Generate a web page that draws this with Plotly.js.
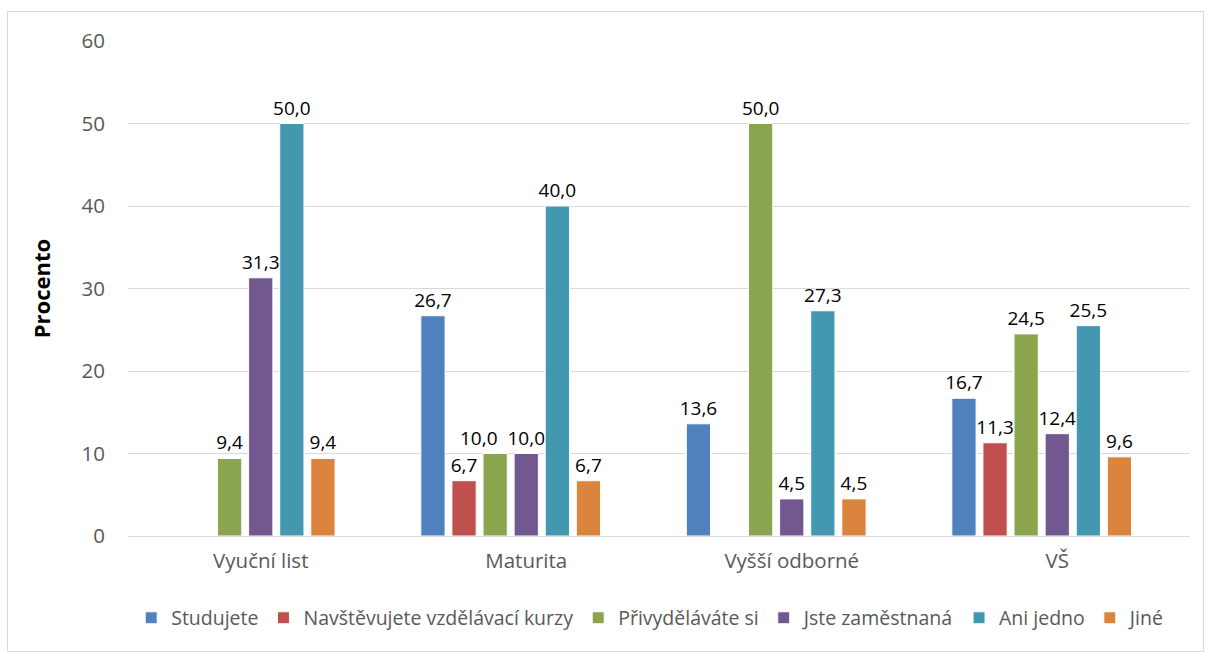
<!DOCTYPE html>
<html>
<head>
<meta charset="utf-8">
<script src="https://cdn.plot.ly/plotly-3.0.1.min.js"></script>
<style>
html,body{margin:0;padding:0;background:#fff;}
#wrap{position:relative;width:1205px;height:652px;}
#chart{width:1205px;height:652px;}
#frame{position:absolute;left:7px;top:11px;width:1195px;height:639px;border:1px solid #D9D9D9;pointer-events:none;}
</style>
</head>
<body>
<div id="wrap"><div id="chart"></div><div id="frame"></div></div>
<script>
const categories = ["Vyuční list", "Maturita", "Vyšší odborné", "VŠ"];
const seriesNames = ["Studujete", "Navštěvujete vzdělávací kurzy", "Přivyděláváte si", "Jste zaměstnaná", "Ani jedno", "Jiné"];
const studujete = [null, 26.7, 13.6, 16.7];
const navstevujete = [null, 6.7, null, 11.3];
const privydelavate = [9.4, 10.0, 50.0, 24.5];
const jsteZamestnana = [31.3, 10.0, 4.5, 12.4];
const aniJedno = [50.0, 40.0, 27.3, 25.5];
const jine = [9.4, 6.7, 4.5, 9.6];
const yTicks = [0, 10, 20, 30, 40, 50, 60];

const seriesValues = [studujete, navstevujete, privydelavate, jsteZamestnana, aniJedno, jine];
const colors = ["#4F81BD", "#C0504D", "#8BA54E", "#71588F", "#4198AF", "#DB843D"];
const fontFam = "Open Sans, Liberation Sans, sans-serif";
const fmt = v => v.toFixed(1).replace(".", ",");

const BARGAP = 0.18;
const NSLOTS = 7; // six series + one empty slot, as in the source chart
// labels moved sideways to keep neighbours apart: [series index, category index, pixel shift]
const movedLabels = [[2, 1, -16]];
const isMoved = (i, j) => movedLabels.some(m => m[0] === i && m[1] === j);

const traces = seriesValues.map((vals, i) => ({
  type: "bar",
  name: seriesNames[i],
  x: categories,
  y: vals,
  text: vals.map((v, j) => (v === null || isMoved(i, j)) ? "" : fmt(v)),
  textposition: "outside",
  constraintext: "none",
  cliponaxis: false,
  textfont: {family: fontFam, size: 19, color: "#000"},
  marker: {color: colors[i], line: {color: "#FFFFFF", width: 1}},
  hoverinfo: "x+y+name"
}));
traces.push({
  type: "bar", name: "", x: categories, y: categories.map(() => null),
  showlegend: false, hoverinfo: "skip", marker: {color: "rgba(0,0,0,0)"}
});

const slotW = (1 - BARGAP) / NSLOTS;
const annotations = movedLabels.map(([i, j, dx]) => ({
  xref: "x", yref: "y",
  x: j - (1 - BARGAP) / 2 + (i + 0.5) * slotW,
  y: seriesValues[i][j],
  text: fmt(seriesValues[i][j]),
  showarrow: false, xanchor: "center", yanchor: "bottom",
  xshift: dx, yshift: 1,
  font: {family: fontFam, size: 19, color: "#000"}
}));

const layout = {
  width: 1205, height: 652,
  margin: {l: 128, r: 15, t: 41, b: 116},
  paper_bgcolor: "#fff", plot_bgcolor: "#fff",
  barmode: "group",
  bargap: BARGAP,
  bargroupgap: 0.22,
  font: {family: fontFam, color: "#595959"},
  annotations: annotations,
  xaxis: {
    type: "category",
    tickfont: {family: fontFam, size: 20.5, color: "#595959"},
    showline: true, linecolor: "#D9D9D9", linewidth: 1,
    ticks: "", showgrid: false, ticklabelstandoff: 6
  },
  yaxis: {
    range: [0, 60],
    tickvals: yTicks,
    ticktext: yTicks.map(String),
    tickfont: {family: fontFam, size: 20.5, color: "#595959"},
    showgrid: true, gridcolor: "#D9D9D9", gridwidth: 1,
    zeroline: false, showline: false, ticks: "", ticklabelstandoff: 22,
    title: {text: "<b>Procento</b>", font: {family: fontFam, size: 22, color: "#000"}, standoff: 24}
  },
  legend: {
    orientation: "h", xref: "container", yref: "container",
    x: 0.54, xanchor: "center", y: 0.052, yanchor: "middle",
    font: {family: fontFam, size: 19.5, color: "#595959"},
    itemwidth: 30, traceorder: "normal"
  },
  showlegend: true
};

Plotly.newPlot("chart", traces, layout, {displayModeBar: false, staticPlot: true});
</script>
</body>
</html>
